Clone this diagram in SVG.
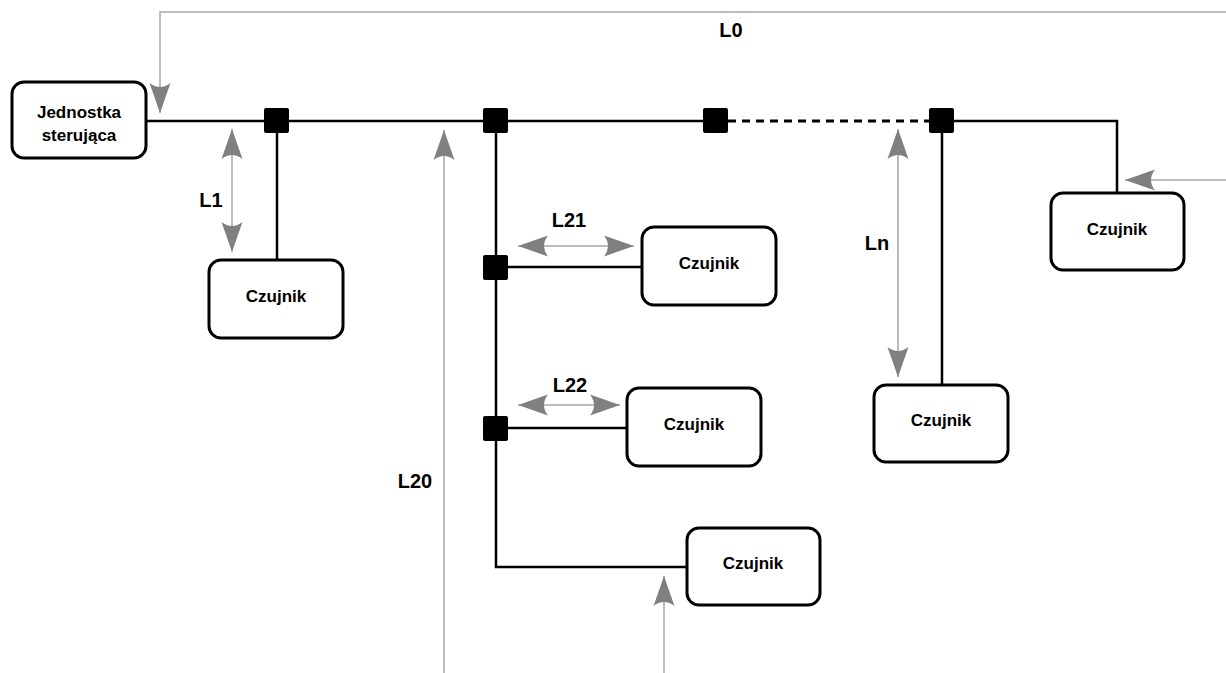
<svg xmlns="http://www.w3.org/2000/svg" width="1226" height="673" viewBox="0 0 1226 673">
<style>
.box{fill:#fff;stroke:#000;stroke-width:3}
.bus{fill:none;stroke:#000;stroke-width:2.5}
.dash{fill:none;stroke:#000;stroke-width:3;stroke-dasharray:8 6}
.jn{fill:#000}
.dim{fill:none;stroke:#a6a6a6;stroke-width:1.5}
.t{font-family:"Liberation Sans",Arial,sans-serif;font-weight:bold;font-size:17px;fill:#000;text-anchor:middle}
.lab{font-family:"Liberation Sans",Arial,sans-serif;font-weight:bold;font-size:20px;fill:#000;text-anchor:middle}
</style>
<defs>
<marker id="ah" viewBox="-31 -11 32 22" refX="0" refY="0" markerWidth="32" markerHeight="22" markerUnits="userSpaceOnUse" orient="auto-start-reverse">
<path d="M0,0 L-30,-10.5 Q-22,0 -30,10.5 Z" fill="#808080"/>
</marker>
</defs>
<rect width="1226" height="673" fill="#fff"/>
<g id="connectors">
<path class="bus" d="M146,121 H703"/>
<path class="dash" d="M728,121 H929"/>
<path class="bus" d="M954,121 H1117 V193"/>
<path class="bus" d="M277,121 V260"/>
<path class="bus" d="M496,121 V567 H687"/>
<path class="bus" d="M496,267 H642"/>
<path class="bus" d="M496,428 H627"/>
<path class="bus" d="M942,121 V385"/>
</g>
<g id="dimensions">
<path class="dim" d="M1240,12 H160 V113" marker-end="url(#ah)"/>
<path class="dim" d="M232,129 V252" marker-start="url(#ah)" marker-end="url(#ah)"/>
<path class="dim" d="M898,129 V377" marker-start="url(#ah)" marker-end="url(#ah)"/>
<path class="dim" d="M518,246 H634" marker-start="url(#ah)" marker-end="url(#ah)"/>
<path class="dim" d="M518,405 H620" marker-start="url(#ah)" marker-end="url(#ah)"/>
<path class="dim" d="M444,680 V130" marker-end="url(#ah)"/>
<path class="dim" d="M664,680 V576" marker-end="url(#ah)"/>
<path class="dim" d="M1240,180 H1125" marker-end="url(#ah)"/>
<text class="lab" x="731" y="37">L0</text>
<text class="lab" x="211" y="207">L1</text>
<text class="lab" x="569" y="227">L21</text>
<text class="lab" x="570" y="392">L22</text>
<text class="lab" x="415" y="488">L20</text>
<text class="lab" x="877" y="250">Ln</text>
</g>
<g id="junctions">
<rect class="jn" x="264" y="108" width="25" height="25" rx="2"/>
<rect class="jn" x="483" y="108" width="25" height="25" rx="2"/>
<rect class="jn" x="703" y="108" width="25" height="25" rx="2"/>
<rect class="jn" x="929" y="108" width="25" height="25" rx="2"/>
<rect class="jn" x="483" y="255" width="25" height="25" rx="2"/>
<rect class="jn" x="483" y="416" width="25" height="25" rx="2"/>
</g>
<g id="jednostka">
<rect class="box" x="12" y="82" width="134" height="76" rx="12"/>
<text class="t" x="79" y="118">Jednostka</text>
<text class="t" x="79" y="141">sterująca</text>
</g>
<g id="czujnik1">
<rect class="box" x="209" y="260" width="134" height="78" rx="12"/>
<text class="t" x="276" y="302">Czujnik</text>
</g>
<g id="czujnik21">
<rect class="box" x="642" y="227" width="134" height="78" rx="12"/>
<text class="t" x="709" y="269">Czujnik</text>
</g>
<g id="czujnik22">
<rect class="box" x="627" y="388" width="134" height="78" rx="12"/>
<text class="t" x="694" y="430">Czujnik</text>
</g>
<g id="czujnik20">
<rect class="box" x="687" y="528" width="133" height="77" rx="12"/>
<text class="t" x="753" y="569">Czujnik</text>
</g>
<g id="czujnikn">
<rect class="box" x="874" y="385" width="134" height="77" rx="12"/>
<text class="t" x="941" y="426">Czujnik</text>
</g>
<g id="czujnik0">
<rect class="box" x="1051" y="193" width="133" height="77" rx="12"/>
<text class="t" x="1117" y="235">Czujnik</text>
</g>
</svg>
